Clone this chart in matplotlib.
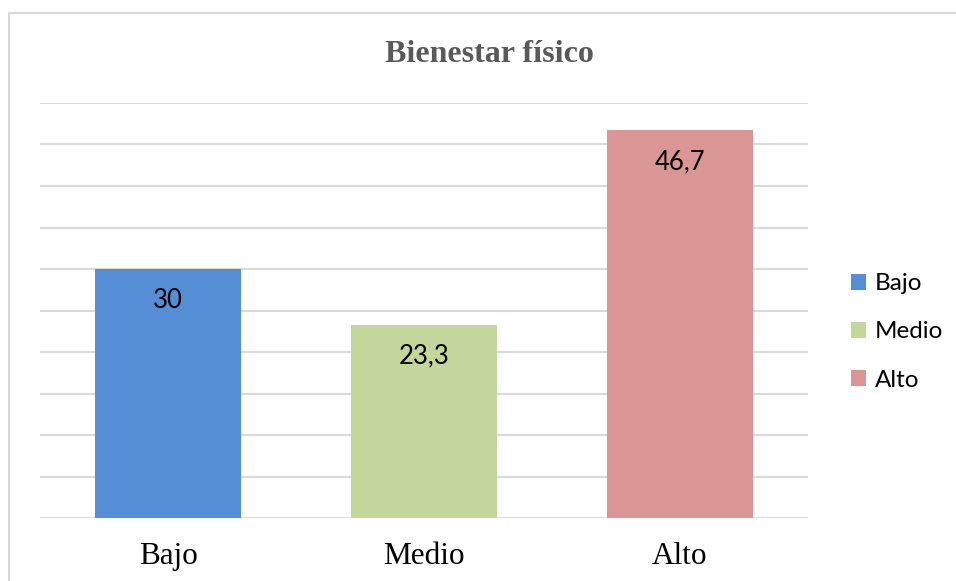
import matplotlib.pyplot as plt
from matplotlib.patches import Patch, Rectangle

categories = ["Bajo", "Medio", "Alto"]
values = [30, 23.3, 46.7]
value_labels = ["30", "23,3", "46,7"]
colors = ["#558ED5", "#C3D69B", "#D99694"]

W, H = 956, 581
fig = plt.figure(figsize=(W / 100, H / 100), dpi=100)
fig.patch.set_facecolor("white")

# light frame around the chart (runs off the right and bottom edge)
fig.patches.append(Rectangle((9 / W, -0.1), 1.2, 1 - 13 / H + 0.1,
                             transform=fig.transFigure, fill=False,
                             edgecolor="#D9D9D9", linewidth=1.5))

ax = fig.add_axes([40 / W, 1 - 518 / H, 768 / W, 415 / H])
ax.set_xlim(-0.5, 2.5)
ax.set_ylim(0, 50)
ax.set_yticks(range(0, 51, 5))
ax.yaxis.grid(True, color="#D9D9D9", linewidth=1.5)
ax.set_axisbelow(True)
ax.tick_params(axis="y", left=False, labelleft=False)
ax.tick_params(axis="x", bottom=False, pad=14)
for s in ax.spines.values():
    s.set_visible(False)

x = range(len(categories))
bars = ax.bar(x, values, width=0.574, color=colors, zorder=2)
ax.set_xticks(list(x))
ax.set_xticklabels(categories, fontfamily="Liberation Serif", fontsize=22.5, color="black")

for b, lab in zip(bars, value_labels):
    ax.annotate(lab, (b.get_x() + b.get_width() / 2, b.get_height()),
                xytext=(0, -22.5), textcoords="offset points",
                ha="center", va="center", fontfamily="Lato", fontsize=18.5, color="black")

fig.text(489 / W, 1 - 54 / H, "Bienestar físico", ha="center", va="center",
         fontfamily="Liberation Serif", fontweight="bold", fontsize=23, color="#595959")

handles = [Patch(facecolor=c, edgecolor="none") for c in colors]
fig.legend(handles, categories, loc="center left", bbox_to_anchor=(829 / W, 1 - 332 / H),
           frameon=False, prop={"family": "Lato", "size": 17.5},
           handlelength=0.62, handleheight=0.62, handletextpad=0.35, labelspacing=1.12)

fig.savefig("out.png", dpi=100)
